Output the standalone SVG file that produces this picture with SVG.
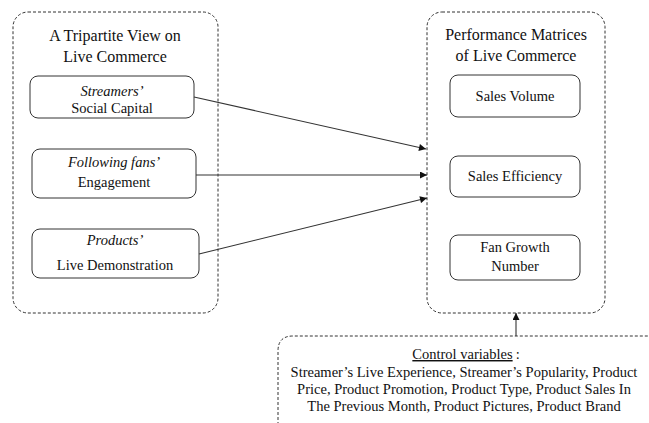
<svg xmlns="http://www.w3.org/2000/svg" width="649" height="423" viewBox="0 0 649 423">
<style>
.grp{fill:none;stroke:#333;stroke-width:1;stroke-dasharray:3 2}
.node{fill:#fff;stroke:#333;stroke-width:1}
.edge{stroke:#333;stroke-width:1.1;fill:none;marker-end:url(#ah)}
</style>
<defs>
<marker id="ah" viewBox="0 0 10 10" refX="10" refY="5" markerWidth="9" markerHeight="7" markerUnits="userSpaceOnUse" orient="auto">
<path d="M0,0 L10,5 L0,10 z" fill="#111"/>
</marker>
</defs>
<rect width="649" height="423" fill="#fff"/>
<g font-family="Liberation Serif" fill="#111" text-anchor="middle">
<g id="group-left" font-size="16">
<rect class="grp" x="13" y="12" width="205" height="301" rx="15"/>
<text x="115" y="41">A Tripartite View on</text>
<text x="115" y="62">Live Commerce</text>
</g>
<g id="group-right" font-size="16">
<rect class="grp" x="427" y="12" width="178" height="301" rx="15"/>
<text x="516" y="40">Performance Matrices</text>
<text x="516" y="61">of Live Commerce</text>
</g>
<g id="node-social-capital" font-size="14.5">
<rect class="node" x="30" y="76" width="164" height="42" rx="8"/>
<text x="112" y="96" font-style="italic">Streamers’</text>
<text x="112" y="113">Social Capital</text>
</g>
<g id="node-engagement" font-size="14.5">
<rect class="node" x="32" y="149" width="164" height="49" rx="8"/>
<text x="114" y="167" font-style="italic">Following fans’</text>
<text x="114" y="187">Engagement</text>
</g>
<g id="node-live-demo" font-size="14.5">
<rect class="node" x="32" y="229" width="167" height="49" rx="8"/>
<text x="115" y="245" font-style="italic">Products’</text>
<text x="115" y="270">Live Demonstration</text>
</g>
<g id="node-sales-volume" font-size="14.5">
<rect class="node" x="450" y="75" width="130" height="42" rx="8"/>
<text x="515" y="101">Sales Volume</text>
</g>
<g id="node-sales-efficiency" font-size="14.5">
<rect class="node" x="450" y="156" width="130" height="41" rx="8"/>
<text x="515" y="181">Sales Efficiency</text>
</g>
<g id="node-fan-growth" font-size="14.5">
<rect class="node" x="450" y="235" width="130" height="45" rx="8"/>
<text x="515" y="252">Fan Growth</text>
<text x="515" y="271">Number</text>
</g>
<g id="node-control" font-size="14.5">
<path class="grp" d="M278,430 L278,351 Q278,336 293,336 L660,336"/>
<text x="466" y="359"><tspan text-decoration="underline">Control variables</tspan><tspan dx="3">:</tspan></text>
<text x="464" y="377">Streamer’s Live Experience, Streamer’s Popularity, Product</text>
<text x="464" y="394">Price, Product Promotion, Product Type, Product Sales In</text>
<text x="464" y="411">The Previous Month, Product Pictures, Product Brand</text>
</g>
</g>
<g id="connectors">
<line class="edge" x1="194" y1="97" x2="426" y2="149"/>
<line class="edge" x1="196" y1="175" x2="427" y2="175"/>
<line class="edge" x1="199" y1="254" x2="427" y2="198"/>
<line class="edge" x1="516" y1="336" x2="516" y2="313"/>
</g>
</svg>
